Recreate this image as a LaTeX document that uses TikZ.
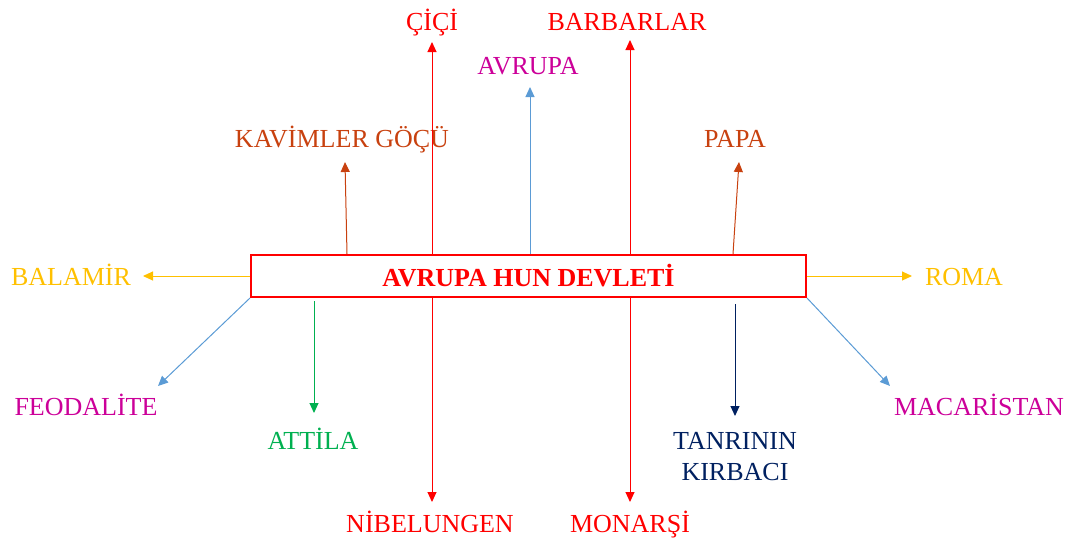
\documentclass[tikz,border=0pt]{standalone}
\usepackage{fontspec}
\setmainfont{Liberation Serif}
\usetikzlibrary{arrows.meta}

\definecolor{hunred}{RGB}{255,0,0}
\definecolor{hungold}{RGB}{255,192,0}
\definecolor{hunpink}{RGB}{204,0,153}
\definecolor{hungreen}{RGB}{0,176,80}
\definecolor{hunnavy}{RGB}{0,32,96}
\definecolor{hunrust}{RGB}{200,65,15}
\definecolor{hunblue}{RGB}{91,155,213}

\begin{document}
\begin{tikzpicture}[x=1pt, y=-1pt,
    lbl/.style={inner sep=0pt, text height=17.5pt, text depth=0pt, font=\fontsize{26}{31}\selectfont},
    arr/.style={line width=1pt, -{Triangle[length=10pt,width=9pt]}}]

    \useasboundingbox (0,0) rectangle (1072,542);

    % Main box
    \node[draw=hunred, line width=2pt, minimum width=555pt, minimum height=42pt, inner sep=0pt,
          text=hunred, font=\bfseries\fontsize{26}{31}\selectfont] (hun) at (528.5,276) {AVRUPA HUN DEVLETİ};

    % Labels
    \foreach \name/\x/\y/\col/\txt in {
        cici/432/22/hunred/ÇİÇİ,
        barb/627/22/hunred/BARBARLAR,
        avru/528/66/hunpink/AVRUPA,
        kavi/342/139/hunrust/KAVİMLER GÖÇÜ,
        papa/735/139/hunrust/PAPA,
        bala/71/277/hungold/BALAMİR,
        roma/964/277/hungold/ROMA,
        feod/86/407/hunpink/FEODALİTE,
        maca/979/407/hunpink/MACARİSTAN,
        atti/313/441/hungreen/ATTİLA,
        nibe/430/524/hunred/NİBELUNGEN,
        mona/630/524/hunred/MONARŞİ}{
        \node[lbl, text=\col] (\name) at (\x,\y) {\txt};
    }
    \node[lbl, text=hunnavy] (tanr) at (735,441) {TANRININ};
    \node[lbl, text=hunnavy] (kirb) at (735,472) {KIRBACI};

    % Arrow tips
    \coordinate (tcici) at (432,42);
    \coordinate (tbarb) at (630,40);
    \coordinate (tavru) at (530,87);
    \coordinate (tkavi) at (345,162);
    \coordinate (tpapa) at (739,162);
    \coordinate (tbala) at (143,276);
    \coordinate (troma) at (912,276);
    \coordinate (tfeod) at (158,386);
    \coordinate (tmaca) at (890,386);
    \coordinate (tatti) at (314,413);
    \coordinate (ttanr) at (735,416);
    \coordinate (tnibe) at (432,502);
    \coordinate (tmona) at (630,502);

    % Arrows, up
    \draw[arr, hunred]  (tcici |- hun.north) -- (tcici);
    \draw[arr, hunred]  (tbarb |- hun.north) -- (tbarb);
    \draw[arr, hunblue] (tavru |- hun.north) -- (tavru);
    \draw[arr, hunrust] ([xshift=2pt]tkavi |- hun.north) -- (tkavi);
    \draw[arr, hunrust] ([xshift=-6pt]tpapa |- hun.north) -- (tpapa);
    % Arrows, sides
    \draw[arr, hungold] (hun.west) -- (tbala);
    \draw[arr, hungold] (hun.east) -- (troma);
    \draw[arr, hunblue] (hun.south west) -- (tfeod);
    \draw[arr, hunblue] (hun.south east) -- (tmaca);
    % Arrows, down
    \draw[arr, hungreen, shorten <=3pt] (tatti |- hun.south) -- (tatti);
    \draw[arr, hunnavy, shorten <=6pt]  (ttanr |- hun.south) -- (ttanr);
    \draw[arr, hunred]  (tnibe |- hun.south) -- (tnibe);
    \draw[arr, hunred]  (tmona |- hun.south) -- (tmona);

\end{tikzpicture}
\end{document}
